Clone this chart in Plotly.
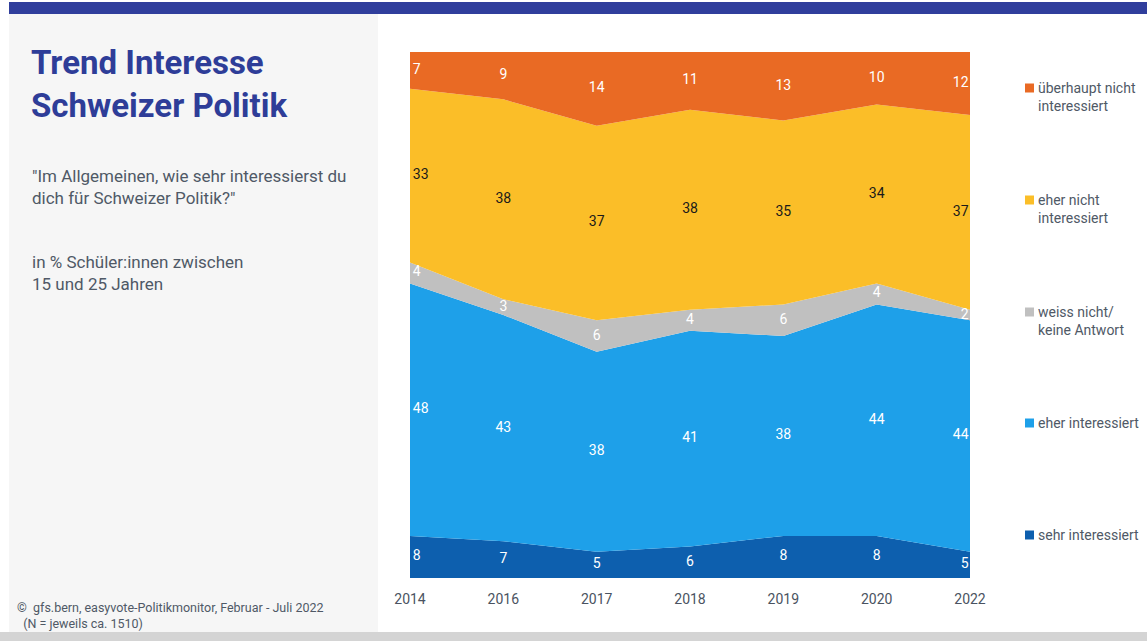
import plotly.graph_objects as go

years = ["2014", "2016", "2017", "2018", "2019", "2020", "2022"]
series_names = ["sehr interessiert", "eher interessiert", "weiss nicht/<br>keine Antwort",
                "eher nicht<br>interessiert", "überhaupt nicht<br>interessiert"]
sehr = [8, 7, 5, 6, 8, 8, 5]
eher = [48, 43, 38, 41, 38, 44, 44]
weiss = [4, 3, 6, 4, 6, 4, 2]
eher_nicht = [33, 38, 37, 38, 35, 34, 37]
ueberhaupt = [7, 9, 14, 11, 13, 10, 12]
colors = ["#0D5FAE", "#1EA0E9", "#C0C0C0", "#FBBE28", "#E96A24"]
text_colors = ["white", "white", "white", "#1a1a1a", "white"]

series = [sehr, eher, weiss, eher_nicht, ueberhaupt]
FONT = "Roboto"

fig = go.Figure()
for name, vals, col in zip(series_names, series, colors):
    fig.add_trace(go.Scatter(x=years, y=vals, name=name, stackgroup="one", mode="none",
                             fillcolor=col, line=dict(width=0), showlegend=False,
                             hoverinfo="skip"))

# labels at segment midpoints
cum = [0] * len(years)
n = len(years)
positions = ["middle right"] + ["middle center"] * (n - 2) + ["middle left"]
for vals, tc in zip(series, text_colors):
    mids = [c + v / 2 for c, v in zip(cum, vals)]
    labels = [("\u2009" + str(v)) if i == 0 else (str(v) + "\u200a" if i == n - 1 else str(v))
              for i, v in enumerate(vals)]
    fig.add_trace(go.Scatter(x=years, y=mids, mode="text", text=labels,
                             textposition=positions,
                             textfont=dict(family=FONT, size=14, color=tc),
                             showlegend=False, hoverinfo="skip"))
    cum = [c + v for c, v in zip(cum, vals)]

x0, x1 = 410 / 1147, 970 / 1147
y0, y1 = 1 - 578 / 641, 1 - 52 / 641

fig.update_layout(
    width=1147, height=641, margin=dict(l=0, r=0, t=0, b=0, autoexpand=False),
    paper_bgcolor="white", plot_bgcolor="white",
    xaxis=dict(domain=[x0, x1], type="category", range=[0, n - 1],
               showgrid=False, zeroline=False, showline=False,
               ticks="outside", ticklen=8, tickcolor="rgba(0,0,0,0)", automargin=False,
               tickfont=dict(family=FONT, size=14, color="#4a5361")),
    yaxis=dict(domain=[y0, y1], range=[0, 100], visible=False, fixedrange=True, automargin=False),
    font=dict(family=FONT),
)

shapes = []
# left panel
shapes.append(dict(type="rect", xref="paper", yref="paper", x0=9 / 1147, x1=378 / 1147,
                   y0=0, y1=1 - 14 / 641, fillcolor="#F6F6F6", line=dict(width=0), layer="below"))
# top bar
shapes.append(dict(type="rect", xref="paper", yref="paper", x0=9 / 1147, x1=1,
                   y0=1 - 14 / 641, y1=1 - 2 / 641, fillcolor="#303E9C", line=dict(width=0)))
# bottom bar
shapes.append(dict(type="rect", xref="paper", yref="paper", x0=0, x1=1,
                   y0=0, y1=9 / 641, fillcolor="#D4D4D4", line=dict(width=0)))

annotations = []
def ann(text, x, y, size, color, xanchor="left", yanchor="middle"):
    annotations.append(dict(text=text, x=x / 1147, y=1 - y / 641, xref="paper", yref="paper",
                            showarrow=False, xanchor=xanchor, yanchor=yanchor, align="left",
                            font=dict(family=FONT, size=size, color=color)))

ann("<b>Trend Interesse<br>Schweizer Politik</b>", 29, 84, 33, "#2E3D98")
ann("\"Im Allgemeinen, wie sehr interessierst du<br>dich für Schweizer Politik?\"", 30, 187, 17, "#4f5966")
ann("in % Schüler:innen zwischen<br>15 und 25 Jahren", 30, 273, 17, "#4f5966")
ann("©  gfs.bern, easyvote-Politikmonitor, Februar - Juli 2022<br>  (N = jeweils ca. 1510)", 15, 615, 12.5, "#4f5966")

legend_y = [97, 209, 321, 423, 535]
order = list(range(len(series_names)))[::-1]
for idx, ly in zip(order, legend_y):
    first_line_y = ly - 9 if "<br>" in series_names[idx] else ly
    shapes.append(dict(type="rect", xref="paper", yref="paper",
                       x0=1025 / 1147, x1=1034 / 1147,
                       y0=1 - (first_line_y + 4.5) / 641, y1=1 - (first_line_y - 4.5) / 641,
                       fillcolor=colors[idx], line=dict(width=0)))
    ann(series_names[idx], 1036, ly, 14, "#4f5966")

fig.update_layout(shapes=shapes, annotations=annotations)
fig.write_html("out.html", config={"displayModeBar": False, "responsive": False},
               post_script="document.body.style.margin='0';document.body.style.overflow='hidden';")
